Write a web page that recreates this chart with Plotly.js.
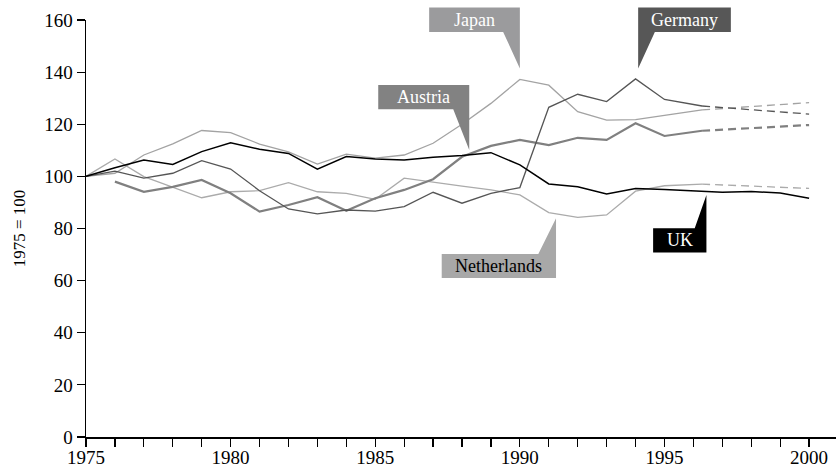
<!DOCTYPE html>
<html>
<head>
<meta charset="utf-8">
<script src="https://cdn.plot.ly/plotly-3.0.1.min.js"></script>
<style>
  html, body { margin: 0; padding: 0; background: #ffffff; }
  #chart { width: 836px; height: 469px; }
</style>
</head>
<body>
<div id="chart"></div>
<script>
// ---- Data (index, 1975 = 100) ----
const years = [1975, 1976, 1977, 1978, 1979, 1980, 1981, 1982, 1983, 1984, 1985, 1986, 1987, 1988, 1989, 1990, 1991, 1992, 1993, 1994, 1995, 1996.3];
const austriaYears = [1976, 1977, 1978, 1979, 1980, 1981, 1982, 1983, 1984, 1985, 1986, 1987, 1988, 1989, 1990, 1991, 1992, 1993, 1994, 1995, 1996.3];
const ukYears = [1975, 1976, 1977, 1978, 1979, 1980, 1981, 1982, 1983, 1984, 1985, 1986, 1987, 1988, 1989, 1990, 1991, 1992, 1993, 1994, 1995, 1996, 1997, 1998, 1999, 2000];
const projYears = [1996.3, 2000];

const japan = [100, 101.2, 108.2, 112.5, 117.6, 116.8, 112.4, 109.4, 104.7, 108.5, 107, 108.2, 112.7, 120, 128, 137.2, 135, 124.8, 121.6, 121.8, 123.4, 125.5];
const germany = [100, 102, 99.3, 101.2, 106, 102.8, 94.5, 87.5, 85.6, 87.1, 86.7, 88.4, 93.9, 89.7, 93.5, 95.7, 126.5, 131.5, 128.7, 137.4, 129.5, 127];
const austria = [98, 94.1, 96, 98.6, 93.5, 86.5, 89, 92, 86.8, 91.6, 94.8, 98.9, 107.5, 111.7, 114, 112, 114.8, 114, 120.4, 115.5, 117.5];
const netherlands = [100, 106.7, 99.9, 96, 91.8, 94.1, 94.5, 97.6, 94.1, 93.5, 91.2, 99.3, 97.7, 96.3, 94.8, 92.9, 86.1, 84.3, 85.2, 94.3, 96.4, 97];
const uk = [100, 103.3, 106.3, 104.6, 109.5, 112.9, 110.4, 108.8, 102.8, 107.6, 106.7, 106.3, 107.3, 108, 109.1, 104.4, 97.1, 96, 93.2, 95.3, 95, 94.4, 93.9, 94.2, 93.6, 91.6];

const japanProj = [125.5, 128.3];
const germanyProj = [127, 123.9];
const austriaProj = [117.5, 119.7];
const netherlandsProj = [97, 95.4];

// ---- Axis ranges ----
const xRange = [1975, 2000.93];
const yRange = [0, 160];

// ---- Callout labels ----
const labelNames = ['Japan', 'Germany', 'Austria', 'Netherlands', 'UK'];
const labelTipX = [1990.0, 1994.09, 1988.25, 1991.25, 1996.45];
const labelTipY = [141.4, 141.4, 110.1, 83.9, 92.9];

// ---- Styles ----
const C_JAPAN = '#a3a3a3', C_GER = '#555555', C_AUS = '#808080', C_NL = '#ababab', C_UK = '#000000';
const BOX_JAPAN = '#9b9b9d', BOX_GER = '#575757', BOX_AUS = '#828282', BOX_NL = '#a8a8a8', BOX_UK = '#000000';
const DASH = '8px,5px';
const FONT = "'Liberation Serif', 'Times New Roman', serif";

function solid(x, y, color, width) {
  return { x: x, y: y, type: 'scatter', mode: 'lines', line: { color: color, width: width }, hoverinfo: 'skip', showlegend: false };
}
function dashed(x, y, color, width) {
  return { x: x, y: y, type: 'scatter', mode: 'lines', line: { color: color, width: width, dash: DASH }, hoverinfo: 'skip', showlegend: false };
}

const traces = [
  solid(years, netherlands, C_NL, 1.3),
  dashed(projYears, netherlandsProj, C_NL, 1.3),
  solid(years, japan, C_JAPAN, 1.3),
  dashed(projYears, japanProj, C_JAPAN, 1.3),
  solid(austriaYears, austria, C_AUS, 2.2),
  dashed(projYears, austriaProj, C_AUS, 2.2),
  solid(years, germany, C_GER, 1.3),
  dashed(projYears, germanyProj, C_GER, 1.3),
  solid(ukYears, uk, C_UK, 1.5)
];

// callout geometry: pixel offsets relative to tip (y up)
const calloutPaths = [
  'M0,0 L-16.7,36.6 L-90.7,36.6 L-90.7,61 L0,61 Z',
  'M0,0 L0,61 L92.7,61 L92.7,36.6 L16.7,36.6 Z',
  'M0,0 L-16,40.7 L-91,40.7 L-91,65 L0,65 Z',
  'M0,0 L0,-59.7 L-114.3,-59.7 L-114.3,-35.7 L-17.7,-35.7 Z',
  'M0,0 L0,-57.7 L-53.3,-57.7 L-53.3,-33.3 L-11.7,-33.3 Z'
];
const calloutFill = [BOX_JAPAN, BOX_GER, BOX_AUS, BOX_NL, BOX_UK];
const textShiftX = [-45.3, 46.3, -45.5, -57.1, -26.6];
const textShiftY = [48.8, 48.8, 52.9, -47.7, -45.5];
const textColor = ['#ffffff', '#ffffff', '#ffffff', '#000000', '#ffffff'];

// y anchored in paper fraction so boxes above the plot top are not clipped
const shapes = labelNames.map((n, i) => ({
  type: 'path', xref: 'x', yref: 'paper',
  xsizemode: 'pixel', ysizemode: 'pixel',
  xanchor: labelTipX[i], yanchor: (labelTipY[i] - yRange[0]) / (yRange[1] - yRange[0]),
  path: calloutPaths[i],
  fillcolor: calloutFill[i], line: { width: 0 }, layer: 'above'
}));

const annotations = labelNames.map((n, i) => ({
  x: labelTipX[i], y: labelTipY[i], xref: 'x', yref: 'y',
  xshift: textShiftX[i], yshift: textShiftY[i],
  text: n, showarrow: false,
  font: { family: FONT, size: 18, color: textColor[i] },
  xanchor: 'center', yanchor: 'middle'
}));

const layout = {
  width: 836, height: 469,
  margin: { l: 86, r: 0, t: 20, b: 32 },
  paper_bgcolor: '#ffffff', plot_bgcolor: '#ffffff',
  font: { family: FONT, size: 19, color: '#000000' },
  showlegend: false,
  xaxis: {
    range: xRange, showgrid: false, zeroline: false,
    showline: true, linecolor: '#000000', linewidth: 1.5,
    tickmode: 'linear', tick0: 1975, dtick: 5,
    ticks: 'outside', ticklen: 8, tickwidth: 1.2, tickcolor: '#000000',
    minor: { dtick: 1, tick0: 1975, ticks: 'outside', ticklen: 8, tickwidth: 1.2, tickcolor: '#000000', showgrid: false },
    tickfont: { family: FONT, size: 19, color: '#000000' },
    ticklabelstandoff: -5,
    fixedrange: true
  },
  yaxis: {
    range: yRange, showgrid: false, zeroline: false,
    showline: true, linecolor: '#000000', linewidth: 1.5,
    tickmode: 'linear', tick0: 0, dtick: 20,
    ticks: 'outside', ticklen: 8, tickwidth: 1.2, tickcolor: '#000000',
    tickfont: { family: FONT, size: 19, color: '#000000' },
    title: { text: '1975 = 100', font: { family: FONT, size: 17, color: '#000000' }, standoff: 14 },
    fixedrange: true
  },
  shapes: shapes,
  annotations: annotations
};

Plotly.newPlot('chart', traces, layout, { staticPlot: true, displayModeBar: false });
</script>
</body>
</html>
